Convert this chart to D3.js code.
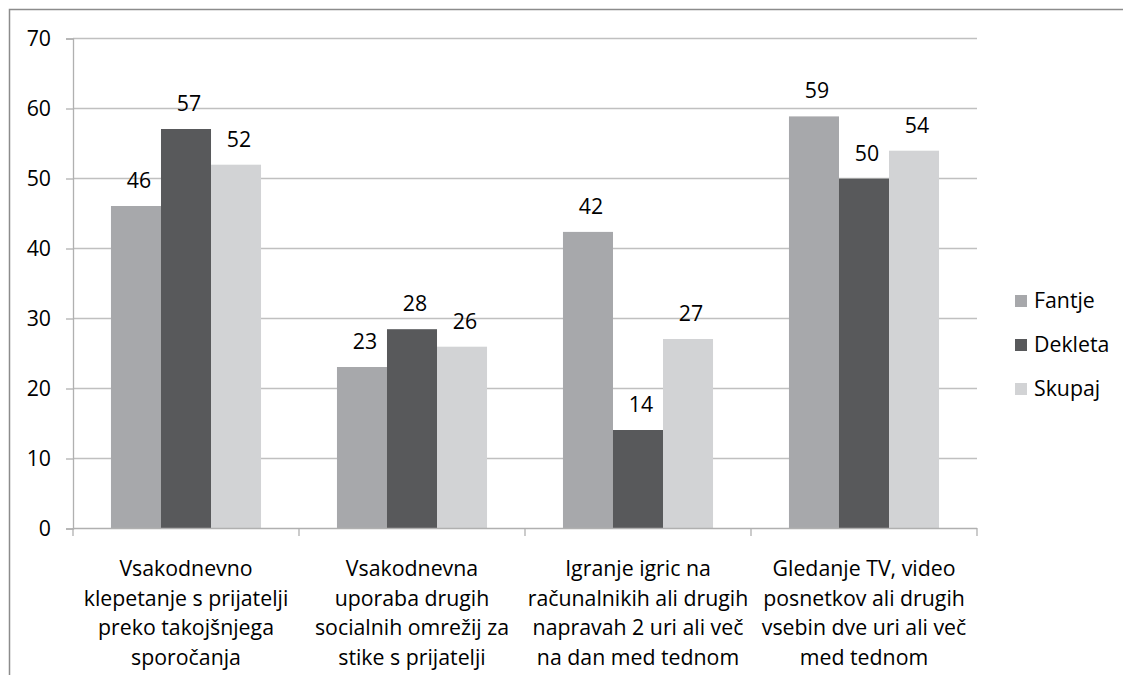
<!DOCTYPE html>
<html><head><meta charset="utf-8">
<script src="https://cdn.jsdelivr.net/npm/d3@7"></script>
<style>
html,body{margin:0;padding:0;background:#fff;}
text{font-family:"Open Sans",sans-serif;fill:#000;}
</style></head>
<body><svg id="c" width="1123" height="675"></svg>
<script>
const categories = [
  ["Vsakodnevno","klepetanje s prijatelji","preko takojšnjega","sporočanja"],
  ["Vsakodnevna","uporaba drugih","socialnih omrežij za","stike s prijatelji"],
  ["Igranje igric na","računalnikih ali drugih","napravah 2 uri ali več","na dan med tednom"],
  ["Gledanje TV, video","posnetkov ali drugih","vsebin dve uri ali več","med tednom"]
];
const seriesNames = ["Fantje","Dekleta","Skupaj"];
const fantje  = [46, 23, 42.3, 58.8];
const dekleta = [57, 28.4, 14, 49.9];
const skupaj  = [51.9, 25.9, 27, 53.9];
const labels = {Fantje:["46","23","42","59"], Dekleta:["57","28","14","50"], Skupaj:["52","26","27","54"]};
const yTicks = [0,10,20,30,40,50,60,70];
const colors = ["#a7a8ab","#58595b","#d2d3d5"];

const values = [fantje, dekleta, skupaj];
const svg = d3.select("#c");
const m = {left:73, right:977, top:38, bottom:528};
const FS = 21.3;

// outer border
svg.append("path").attr("d","M9.5,680 L9.5,9.5 L1130,9.5")
  .attr("fill","none").attr("stroke","#8c8c8c").attr("stroke-width",1.5);

const x0 = d3.scaleBand().domain(d3.range(categories.length)).range([m.left, m.right]).padding(0);
const bw = x0.bandwidth();
const gap = bw*0.168;
const x1 = d3.scaleBand().domain(seriesNames).range([gap, bw-gap]).padding(0);
const y = d3.scaleLinear().domain([0,70]).range([m.bottom, m.top]);

// gridlines
svg.append("g").selectAll("line").data(yTicks.filter(d=>d>0)).join("line")
  .attr("x1",m.left).attr("x2",m.right)
  .attr("y1",d=>y(d)+0.5).attr("y2",d=>y(d)+0.5)
  .attr("stroke","#c0c0c0").attr("stroke-width",1.3);

// y axis
const yAxis = svg.append("g").attr("transform",`translate(${m.left},0.5)`)
  .call(d3.axisLeft(y).tickValues(yTicks).tickSize(7).tickPadding(15).tickFormat(d3.format("d")));
yAxis.select(".domain").attr("stroke","#b0b0b0").attr("stroke-width",1.3);
yAxis.selectAll(".tick line").attr("stroke","#b0b0b0").attr("stroke-width",1.3);
yAxis.selectAll(".tick text").attr("font-size",FS).attr("font-family","Open Sans").attr("fill","#000");

// bars
const gs = svg.append("g").selectAll("g").data(categories).join("g")
  .attr("transform",(d,i)=>`translate(${x0(i)},0)`);
seriesNames.forEach((s,si)=>{
  gs.append("rect")
    .attr("x",x1(s)).attr("width",x1.bandwidth())
    .attr("y",(d,i)=>y(values[si][i])).attr("height",(d,i)=>m.bottom-y(values[si][i]))
    .attr("fill",colors[si]);
  gs.append("text")
    .attr("x",x1(s)+x1.bandwidth()/2+3).attr("y",(d,i)=>y(values[si][i])-18)
    .attr("text-anchor","middle").attr("font-size",FS)
    .text((d,i)=>labels[s][i]);
});

// x axis
const xg = svg.append("g");
xg.append("line").attr("x1",m.left).attr("x2",m.right).attr("y1",m.bottom+0.5).attr("y2",m.bottom+0.5)
  .attr("stroke","#b0b0b0").attr("stroke-width",1.3);
xg.selectAll("line.t").data(d3.range(categories.length+1)).join("line").attr("class","t")
  .attr("x1",i=>m.left+i*bw).attr("x2",i=>m.left+i*bw)
  .attr("y1",m.bottom).attr("y2",m.bottom+8)
  .attr("stroke","#b0b0b0").attr("stroke-width",1.3);
const xl = xg.selectAll("text.c").data(categories).join("text").attr("class","c")
  .attr("text-anchor","middle").attr("font-size",FS)
  .attr("x",(d,i)=>x0(i)+bw/2);
xl.selectAll("tspan").data(d=>d).join("tspan")
  .attr("x",function(){return this.parentNode.getAttribute("x");})
  .attr("y",(d,j)=>576+j*29.6).text(d=>d);

// legend
const lg = svg.append("g").selectAll("g").data(seriesNames).join("g")
  .attr("transform",(d,i)=>`translate(1015,${301+i*44})`);
lg.append("rect").attr("x",0).attr("y",-6).attr("width",12).attr("height",12).attr("fill",(d,i)=>colors[i]);
lg.append("text").attr("x",19).attr("y",7).attr("font-size",FS).text(d=>d);
</script></body></html>
